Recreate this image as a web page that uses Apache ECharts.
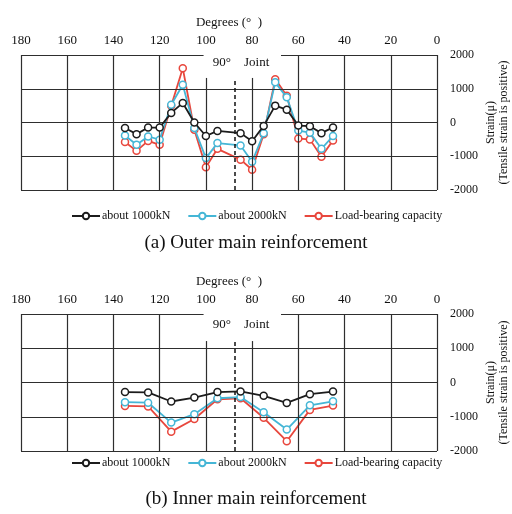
<!DOCTYPE html>
<html>
<head>
<meta charset="utf-8">
<script src="https://cdn.jsdelivr.net/npm/echarts@6/dist/echarts.min.js"></script>
<style>
  html, body { margin: 0; padding: 0; background: #fff; }
  #chart { width: 512px; height: 514px; }
</style>
</head>
<body>
<div id="chart"></div>
<script>
// Angular positions (degrees) of the strain gauges and measured strains (µε)
const outerAngles = [135, 130, 125, 120, 115, 110, 105, 100, 95, 85, 80, 75, 70, 65, 60, 55, 50, 45];
const outer1000 = [-165, -345, -150, -150, 285, 580, 0, -400, -250, -315, -555, -100, 500, 380, -90, -110, -315, -145];
const outer2000 = [-385, -660, -415, -510, 525, 1120, -165, -1055, -610, -680, -1165, -320, 1190, 745, -240, -300, -780, -400];
const outerCap = [-580, -840, -545, -660, 495, 1610, -215, -1325, -780, -1100, -1400, -350, 1285, 790, -475, -500, -1015, -530];

const innerAngles = [135, 125, 115, 105, 95, 85, 75, 65, 55, 45];
const inner1000 = [-280, -290, -555, -440, -280, -260, -390, -595, -340, -265];
const inner2000 = [-575, -590, -1170, -925, -460, -425, -870, -1375, -665, -550];
const innerCap = [-685, -700, -1435, -1065, -490, -460, -1030, -1715, -800, -675];

const seriesNames = ['about 1000kN', 'about 2000kN', 'Load-bearing capacity'];
const seriesColors = ['#1c1c1c', '#45b6d6', '#e8473d'];

const degreeTicks = [180, 160, 140, 120, 100, 80, 60, 40, 20, 0];
const strainTicks = [-2000, -1000, 0, 1000, 2000];
const jointAngle = 87.5;
const captions = ['(a) Outer main reinforcement', '(b) Inner main reinforcement'];

const SERIF = '"Liberation Serif", "DejaVu Serif", serif';
const GRID_COLOR = '#2e2e2e';

const degMin = Math.min(...degreeTicks), degMax = Math.max(...degreeTicks);
const sMin = Math.min(...strainTicks), sMax = Math.max(...strainTicks);

function pairs(xs, ys) { return xs.map((x, i) => [x, ys[i]]); }

// Grid frame segments in data coordinates; the top edge is open around the joint label
function frameSegments(shortTop) {
  const seg = (a, b, extra) => [Object.assign({ coord: a }, extra || {}), { coord: b }];
  const out = [];
  strainTicks.slice(0, -1).forEach(s => out.push(seg([degMax, s], [degMin, s])));
  out.push(seg([degMax, sMax], [101, sMax]));
  out.push(seg([67.5, sMax], [degMin, sMax]));
  degreeTicks.forEach(d => {
    const top = (d === 100 || d === 80) ? shortTop : sMax;
    out.push(seg([d, sMin], [d, top]));
  });
  out.push(seg([jointAngle, sMin], [jointAngle, shortTop], { lineStyle: { type: [4, 3], width: 1.5, color: '#111' } }));
  return out;
}

const gridTops = [55, 314];
const gridHeights = [135, 137];
const shortTops = [1320, 1210];
const labelY = [1780, 1680];
const legendTops = [205, 452];
const captionTops = [229, 485];

const grids = [], xAxes = [], yAxes = [], series = [], legends = [], titles = [];

[0, 1].forEach(g => {
  grids.push({ left: 21, right: 75, top: gridTops[g], height: gridHeights[g], outerBoundsMode: 'none', containLabel: false });
  xAxes.push({
    gridIndex: g, type: 'value', min: degMin, max: degMax, interval: 20,
    inverse: true, position: 'top',
    name: 'Degrees (°  )', nameLocation: 'middle', nameGap: 26, nameMoveOverlap: false,
    nameTextStyle: { fontFamily: SERIF, fontSize: 13, color: '#111' },
    axisLine: { show: false }, axisTick: { show: false }, splitLine: { show: false },
    axisLabel: { margin: 8, fontFamily: SERIF, fontSize: 13, color: '#111' }
  });
  yAxes.push({
    gridIndex: g, type: 'value', min: sMin, max: sMax, interval: 1000, position: 'right',
    name: 'Strain(μ)\n(Tensile strain is positive)', nameLocation: 'middle', nameRotate: 90, nameGap: 47,
    nameMoveOverlap: false,
    nameTextStyle: { fontFamily: SERIF, fontSize: 12, color: '#111', lineHeight: 13 },
    axisLine: { show: false }, axisTick: { show: false }, splitLine: { show: false },
    axisLabel: { margin: 13, fontFamily: SERIF, fontSize: 12, color: '#111', formatter: v => String(v) }
  });

  // frame, joint marker and joint label
  series.push({
    type: 'line', xAxisIndex: g, yAxisIndex: g, data: [], silent: true,
    markLine: {
      silent: true, symbol: ['none', 'none'], animation: false,
      label: { show: false },
      lineStyle: { color: GRID_COLOR, width: 1.2, type: 'solid' },
      emphasis: { disabled: true },
      data: frameSegments(shortTops[g])
    },
    markPoint: {
      silent: true, animation: false,
      data: [{
        coord: [84.8, labelY[g]], symbol: 'circle', symbolSize: 0,
        label: { show: true, position: 'inside', formatter: '90°    Joint', fontFamily: SERIF, fontSize: 13, color: '#111' }
      }]
    }
  });

  const sets = g === 0 ? [outer1000, outer2000, outerCap] : [inner1000, inner2000, innerCap];
  const angles = g === 0 ? outerAngles : innerAngles;
  [2, 1, 0].forEach(k => {
    series.push({
      name: seriesNames[k], type: 'line', xAxisIndex: g, yAxisIndex: g,
      data: pairs(angles, sets[k]),
      color: seriesColors[k],
      symbol: 'circle', symbolSize: 7,
      itemStyle: { color: '#fff', borderColor: seriesColors[k], borderWidth: 1.5 },
      lineStyle: { color: seriesColors[k], width: 1.8 },
      z: 3 + (2 - k), animation: false
    });
  });

  legends.push({
    data: seriesNames, top: legendTops[g], left: 66,
    itemWidth: 28, itemHeight: 8, itemGap: 17, selectedMode: false,
    textStyle: { fontFamily: SERIF, fontSize: 12, color: '#111', padding: [0, 0, 0, -3] }
  });
  titles.push({
    text: captions[g], left: 'center', top: captionTops[g],
    textStyle: { fontFamily: SERIF, fontSize: 19, fontWeight: 'normal', color: '#111' }
  });
});

const chart = echarts.init(document.getElementById('chart'), null, { renderer: 'canvas' });
chart.setOption({
  animation: false,
  backgroundColor: '#fff',
  title: titles,
  legend: legends,
  grid: grids,
  xAxis: xAxes,
  yAxis: yAxes,
  series: series
});
</script>
</body>
</html>
